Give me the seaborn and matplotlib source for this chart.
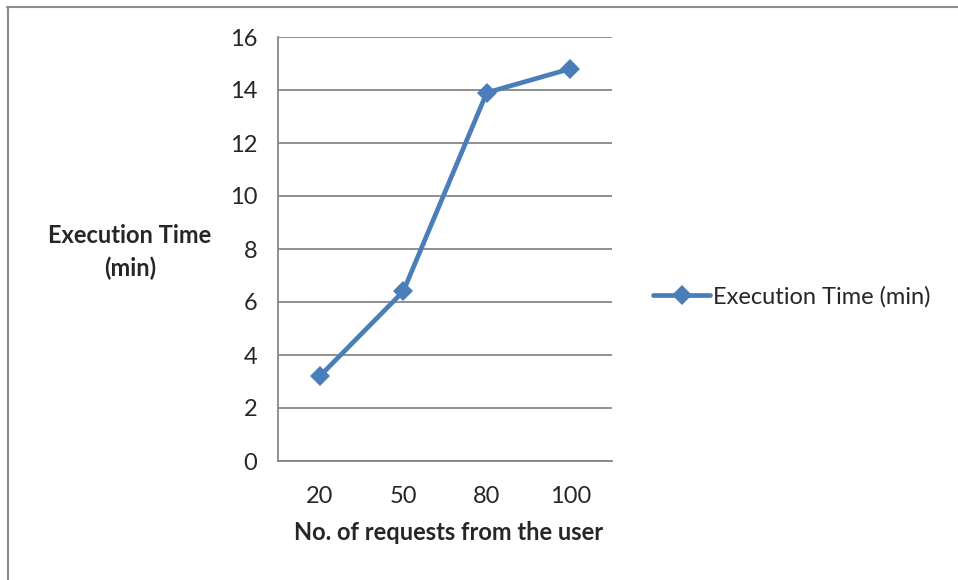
import matplotlib
matplotlib.use("Agg")
import matplotlib.pyplot as plt
from matplotlib.lines import Line2D
import seaborn as sns
import pandas as pd

# Data
requests = ["20", "50", "80", "100"]
exec_time = [3.2, 6.4, 13.9, 14.8]
y_ticks = [0, 2, 4, 6, 8, 10, 12, 14, 16]
series_name = "Execution Time (min)"

df = pd.DataFrame({"requests": requests, "time": exec_time})

sns.set_style("white")
plt.rcParams["font.family"] = ["Lato", "DejaVu Sans"]

line_color = "#4A7EBB"
grid_color = "#878787"
fs = 17

fig = plt.figure(figsize=(9.58, 5.8), dpi=100)
ax = fig.add_axes([278 / 958, 1 - 461 / 580, (612 - 278) / 958, (461 - 37) / 580])

sns.lineplot(data=df, x="requests", y="time", ax=ax, color=line_color,
             linewidth=3.4, marker="D", markersize=10.5, markeredgewidth=0,
             sort=False)

ax.set_xlim(-0.5, len(requests) - 0.5)
ax.set_ylim(0, 16)
ax.set_yticks(y_ticks)
ax.yaxis.grid(True, color=grid_color, linewidth=1.3)
ax.set_axisbelow(True)

# category tick marks sit on the boundaries between categories
ax.set_xticks(range(len(requests)))
ax.set_xticklabels(requests)
ax.set_xticks([i - 0.5 for i in range(len(requests) + 1)], minor=True)
ax.tick_params(axis="x", which="major", length=0, pad=18, labelsize=fs)
ax.tick_params(axis="x", which="minor", length=6, width=1.3, color=grid_color,
               direction="out")
ax.tick_params(axis="y", length=6, width=1.3, color=grid_color,
               direction="out", pad=9, labelsize=fs)

for side in ["top", "right"]:
    ax.spines[side].set_visible(False)
for side in ["left", "bottom"]:
    ax.spines[side].set_color(grid_color)
    ax.spines[side].set_linewidth(1.3)

ax.set_xlabel("")
ax.set_ylabel("")
fig.text(449 / 958, 1 - 533 / 580, "No. of requests from the user",
         ha="center", va="center", fontsize=fs, fontweight="bold")
fig.text(130 / 958, 1 - 252 / 580, "Execution Time\n(min)",
         ha="center", va="center", fontsize=fs, fontweight="bold",
         linespacing=1.45)

# legend entry
handle = Line2D([], [], color=line_color, linewidth=3.4, marker="D",
                markersize=10.5, markeredgewidth=0)
fig.legend([handle], [series_name], loc="center left",
           bbox_to_anchor=(632 / 958, 1 - 297 / 580), frameon=False,
           fontsize=fs, handlelength=2.4, handletextpad=0.15)

# outer chart border (top and left edges)
fig.add_artist(Line2D([7 / 958, 1], [1 - 7 / 580, 1 - 7 / 580],
                      transform=fig.transFigure, color="#8C8C8C", linewidth=1.5))
fig.add_artist(Line2D([7.5 / 958, 7.5 / 958], [0, 1 - 7 / 580],
                      transform=fig.transFigure, color="#8C8C8C", linewidth=1.5))

fig.savefig("out.png", dpi=100, facecolor="white")
